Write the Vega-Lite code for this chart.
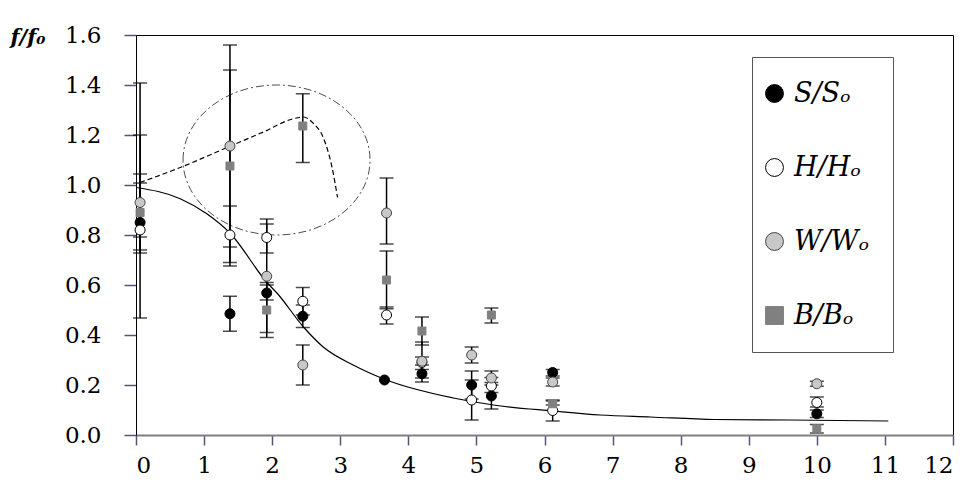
{
  "$schema": "https://vega.github.io/schema/vega-lite/v6.json",
  "width": 817,
  "height": 400,
  "autosize": {"type": "none"},
  "padding": {"left": 136, "top": 35, "right": 10, "bottom": 49},
  "background": "white",
  "config": {
    "view": {"stroke": "black", "strokeWidth": 1},
    "axis": {"labelFont": "DejaVu Serif", "labelFontSize": 23, "labelColor": "black", "grid": false, "tickColor": "#55557a", "tickWidth": 1.5},
    "legend": {
      "orient": "none", "legendX": 616, "legendY": 22, "padding": 23, "rowPadding": 46,
      "strokeColor": "#555555", "fillColor": "white", "labelFont": "DejaVu Serif",
      "labelFontStyle": "italic", "labelFontSize": 27, "labelColor": "black", "symbolSize": 320,
      "symbolStrokeWidth": 1, "symbolOffset": -14, "labelOffset": 6, "labelLimit": 400
    }
  },
  "datasets": {
    "pts": [
      {"x": 0.06, "y": 0.85, "lo": 0.728, "hi": 1.044, "series": "S/Sₒ"},
      {"x": 0.06, "y": 0.82, "lo": 0.74, "hi": 1.2, "series": "H/Hₒ"},
      {"x": 0.06, "y": 0.93, "lo": 0.468, "hi": 1.408, "series": "W/Wₒ"},
      {"x": 0.06, "y": 0.89, "lo": 0.792, "hi": 1.008, "series": "B/Bₒ"},
      {"x": 1.38, "y": 0.485, "lo": 0.415, "hi": 0.555, "series": "S/Sₒ"},
      {"x": 1.38, "y": 0.8, "lo": 0.676, "hi": 0.916, "series": "H/Hₒ"},
      {"x": 1.38, "y": 1.156, "lo": 0.752, "hi": 1.56, "series": "W/Wₒ"},
      {"x": 1.38, "y": 1.076, "lo": 0.69, "hi": 1.46, "series": "B/Bₒ"},
      {"x": 1.92, "y": 0.568, "lo": 0.54, "hi": 0.6, "series": "S/Sₒ"},
      {"x": 1.92, "y": 0.79, "lo": 0.728, "hi": 0.864, "series": "H/Hₒ"},
      {"x": 1.92, "y": 0.635, "lo": 0.41, "hi": 0.844, "series": "W/Wₒ"},
      {"x": 1.92, "y": 0.5, "lo": 0.39, "hi": 0.61, "series": "B/Bₒ"},
      {"x": 2.45, "y": 0.475, "lo": 0.43, "hi": 0.52, "series": "S/Sₒ"},
      {"x": 2.45, "y": 0.535, "lo": 0.48, "hi": 0.59, "series": "H/Hₒ"},
      {"x": 2.45, "y": 0.28, "lo": 0.2, "hi": 0.36, "series": "W/Wₒ"},
      {"x": 2.45, "y": 1.236, "lo": 1.09, "hi": 1.365, "series": "B/Bₒ"},
      {"x": 3.65, "y": 0.22, "lo": null, "hi": null, "series": "S/Sₒ"},
      {"x": 3.68, "y": 0.48, "lo": 0.444, "hi": 0.512, "series": "H/Hₒ"},
      {"x": 3.68, "y": 0.888, "lo": 0.764, "hi": 1.028, "series": "W/Wₒ"},
      {"x": 3.68, "y": 0.62, "lo": 0.505, "hi": 0.736, "series": "B/Bₒ"},
      {"x": 4.2, "y": 0.245, "lo": 0.228, "hi": 0.262, "series": "S/Sₒ"},
      {"x": 4.2, "y": 0.29, "lo": 0.212, "hi": 0.372, "series": "H/Hₒ"},
      {"x": 4.2, "y": 0.295, "lo": 0.28, "hi": 0.312, "series": "W/Wₒ"},
      {"x": 4.2, "y": 0.416, "lo": 0.36, "hi": 0.472, "series": "B/Bₒ"},
      {"x": 4.93, "y": 0.2, "lo": 0.144, "hi": 0.256, "series": "S/Sₒ"},
      {"x": 4.93, "y": 0.14, "lo": 0.06, "hi": 0.22, "series": "H/Hₒ"},
      {"x": 4.93, "y": 0.32, "lo": 0.288, "hi": 0.352, "series": "W/Wₒ"},
      {"x": 5.22, "y": 0.156, "lo": 0.104, "hi": 0.21, "series": "S/Sₒ"},
      {"x": 5.22, "y": 0.196, "lo": 0.17, "hi": 0.23, "series": "H/Hₒ"},
      {"x": 5.22, "y": 0.228, "lo": 0.2, "hi": 0.256, "series": "W/Wₒ"},
      {"x": 5.22, "y": 0.48, "lo": 0.448, "hi": 0.508, "series": "B/Bₒ"},
      {"x": 6.12, "y": 0.25, "lo": 0.236, "hi": 0.262, "series": "S/Sₒ"},
      {"x": 6.12, "y": 0.098, "lo": 0.056, "hi": 0.14, "series": "H/Hₒ"},
      {"x": 6.12, "y": 0.212, "lo": 0.196, "hi": 0.228, "series": "W/Wₒ"},
      {"x": 6.12, "y": 0.125, "lo": 0.12, "hi": 0.136, "series": "B/Bₒ"},
      {"x": 10.0, "y": 0.085, "lo": 0.07, "hi": 0.1, "series": "S/Sₒ"},
      {"x": 10.0, "y": 0.13, "lo": 0.112, "hi": 0.152, "series": "H/Hₒ"},
      {"x": 10.0, "y": 0.205, "lo": 0.195, "hi": 0.215, "series": "W/Wₒ"},
      {"x": 10.0, "y": 0.025, "lo": 0.008, "hi": 0.042, "series": "B/Bₒ"}
    ],
    "fit": [
      {"x": 0.0, "y": 0.99}, {"x": 0.65, "y": 0.945}, {"x": 1.04, "y": 0.885}, {"x": 1.38, "y": 0.808},
      {"x": 1.93, "y": 0.608}, {"x": 2.07, "y": 0.568}, {"x": 2.46, "y": 0.432}, {"x": 2.75, "y": 0.352},
      {"x": 3.19, "y": 0.28}, {"x": 3.66, "y": 0.222}, {"x": 4.66, "y": 0.148}, {"x": 5.25, "y": 0.12},
      {"x": 6.13, "y": 0.096}, {"x": 6.82, "y": 0.08}, {"x": 7.56, "y": 0.072}, {"x": 8.5, "y": 0.062},
      {"x": 9.6, "y": 0.06}, {"x": 11.05, "y": 0.056}
    ],
    "hump": [
      {"x": 0.06, "y": 1.01}, {"x": 0.65, "y": 1.07}, {"x": 1.38, "y": 1.155}, {"x": 1.87, "y": 1.212},
      {"x": 2.31, "y": 1.265}, {"x": 2.46, "y": 1.272}, {"x": 2.6, "y": 1.248}, {"x": 2.75, "y": 1.19},
      {"x": 2.88, "y": 1.07}, {"x": 2.96, "y": 0.95}
    ],
    "ring": [{"x": 2.064, "y": 1.1}]
  },
  "layer": [
    {
      "data": {"name": "pts"},
      "mark": {"type": "rule", "color": "black", "strokeWidth": 1.5},
      "encoding": {
        "x": {"field": "x", "type": "quantitative", "scale": {"domain": [0, 12]},
          "axis": {"values": [0,1,2,3,4,5,6,7,8,9,10,11,12], "format": "d", "title": null, "domainColor": "#808080", "domainWidth": 2, "tickSize": 10, "labelPadding": 9,
            "labelFont": "DejaVu Serif"}},
        "y": {"field": "lo", "type": "quantitative", "scale": {"domain": [0, 1.6]},
          "axis": {"values": [0,0.2,0.4,0.6,0.8,1.0,1.2,1.4,1.6], "format": ".1f", "domainColor": "black", "domainWidth": 1, "tickSize": 12, "labelPadding": 23,
            "labelFont": "DejaVu Serif",
            "title": "f/f₀", "titleAngle": 0, "titleAlign": "left", "titleBaseline": "alphabetic", "titleX": -126, "titleY": 8,
            "titleFont": "DejaVu Serif", "titleFontSize": 21, "titleFontStyle": "italic", "titleFontWeight": "bold", "titleColor": "black"}},
        "y2": {"field": "hi"}
      }
    },
    {
      "data": {"name": "pts"},
      "mark": {"type": "tick", "orient": "horizontal", "color": "black", "size": 14, "thickness": 1.5},
      "encoding": {"x": {"field": "x", "type": "quantitative"}, "y": {"field": "lo", "type": "quantitative"}}
    },
    {
      "data": {"name": "pts"},
      "mark": {"type": "tick", "orient": "horizontal", "color": "black", "size": 14, "thickness": 1.5},
      "encoding": {"x": {"field": "x", "type": "quantitative"}, "y": {"field": "hi", "type": "quantitative"}}
    },
    {
      "data": {"name": "fit"},
      "mark": {"type": "line", "color": "black", "strokeWidth": 1.2, "interpolate": "monotone"},
      "encoding": {"x": {"field": "x", "type": "quantitative"}, "y": {"field": "y", "type": "quantitative"}}
    },
    {
      "data": {"name": "hump"},
      "mark": {"type": "line", "color": "black", "strokeWidth": 1.2, "strokeDash": [5, 3], "interpolate": "monotone"},
      "encoding": {"x": {"field": "x", "type": "quantitative"}, "y": {"field": "y", "type": "quantitative"}}
    },
    {
      "data": {"name": "ring"},
      "mark": {"type": "point", "filled": false, "stroke": "black", "strokeWidth": 1, "strokeDash": [8, 3, 2, 3], "size": 34969,
        "shape": "M -1 0 C -1 -0.443 -0.5523 -0.802 0 -0.802 C 0.5523 -0.802 1 -0.443 1 0 C 1 0.443 0.5523 0.802 0 0.802 C -0.5523 0.802 -1 0.443 -1 0 Z"},
      "encoding": {"x": {"field": "x", "type": "quantitative"}, "y": {"field": "y", "type": "quantitative"}}
    },
    {
      "mark": {"type": "rule", "color": "black", "strokeWidth": 1, "strokeDash": [5, 3]},
      "encoding": {"y": {"datum": 0.93}}
    },
    {
      "data": {"name": "pts"},
      "mark": {"type": "point", "filled": true, "opacity": 1, "strokeWidth": 1},
      "encoding": {
        "x": {"field": "x", "type": "quantitative"},
        "y": {"field": "y", "type": "quantitative"},
        "shape": {"field": "series", "type": "nominal", "title": null,
          "scale": {"domain": ["S/Sₒ", "H/Hₒ", "W/Wₒ", "B/Bₒ"], "range": ["circle", "circle", "circle", "square"]}},
        "fill": {"field": "series", "type": "nominal", "title": null,
          "scale": {"domain": ["S/Sₒ", "H/Hₒ", "W/Wₒ", "B/Bₒ"], "range": ["#000000", "#ffffff", "#c8c8c8", "#808080"]}},
        "stroke": {"field": "series", "type": "nominal", "title": null,
          "scale": {"domain": ["S/Sₒ", "H/Hₒ", "W/Wₒ", "B/Bₒ"], "range": ["#000000", "#000000", "#444444", "#808080"]}},
        "size": {"condition": {"test": "datum.series === 'B/Bₒ'", "value": 64}, "value": 100}
      }
    }
  ]
}
